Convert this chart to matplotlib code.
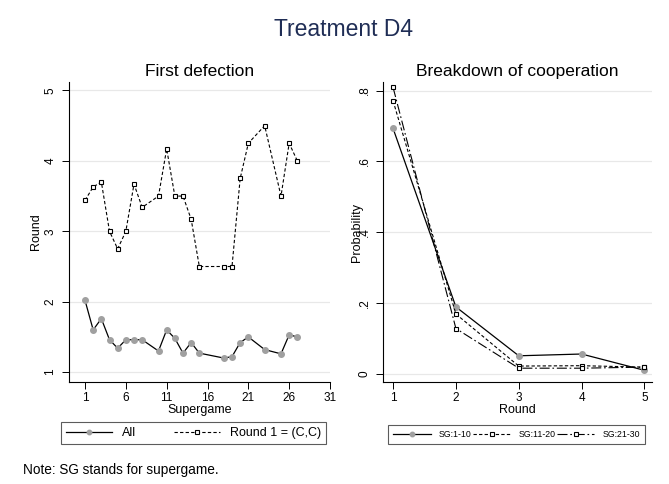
import numpy as np
import matplotlib
matplotlib.use("Agg")
import matplotlib.pyplot as plt

plt.rcParams['font.family'] = ['Liberation Sans', 'DejaVu Sans']

# left panel: first defection by supergame
sg_all = [1, 2, 3, 4, 5, 6, 7, 8, 10, 11, 12, 13, 14, 15, 18, 19, 20, 21, 23, 25, 26, 27]
all_vals = [2.02, 1.60, 1.76, 1.46, 1.34, 1.46, 1.46, 1.46, 1.30, 1.60, 1.48, 1.27,
            1.42, 1.27, 1.20, 1.22, 1.42, 1.50, 1.32, 1.26, 1.53, 1.50]
sg_cc = [1, 2, 3, 4, 5, 6, 7, 8, 10, 11, 12, 13, 14, 15, 18, 19, 20, 21, 23, 25, 26, 27]
cc_vals = [3.44, 3.63, 3.70, 3.00, 2.75, 3.00, 3.67, 3.34, 3.50, 4.17, 3.50, 3.50,
           3.17, 2.50, 2.50, 2.50, 3.75, 4.25, 4.50, 3.50, 4.25, 4.00]

# right panel: breakdown of cooperation
rounds = [1, 2, 3, 4, 5]
sg_1_10 = [0.693, 0.189, 0.051, 0.056, 0.010]
sg_11_20 = [0.771, 0.169, 0.022, 0.023, 0.019]
sg_21_30 = [0.809, 0.128, 0.016, 0.016, 0.019]

grid_c = '#e8e8e8'
gray = '#a0a0a0'

fig = plt.figure(figsize=(6.69, 4.84), dpi=100)
ax1 = fig.add_axes([69/669, 1-382/484, 261/669, 300/484])
ax2 = fig.add_axes([383/669, 1-382/484, 269/669, 300/484])

fig.text(344/669, 1-30/484, "Treatment D4", ha='center', va='center', fontsize=16.5, color='#1f2d55')

def style(ax):
    for s in ['top', 'right']:
        ax.spines[s].set_visible(False)
    ax.spines['left'].set_linewidth(0.8)
    ax.spines['bottom'].set_linewidth(0.8)
    ax.tick_params(direction='out', length=5, width=0.7, labelsize=8.5)
    ax.tick_params(axis='x', pad=2)
    ax.tick_params(axis='y', pad=4)
    ax.yaxis.grid(True, color=grid_c, linewidth=0.9)
    ax.set_axisbelow(True)
    for lab in ax.get_yticklabels():
        lab.set_rotation(90)
        lab.set_va('center')

# left panel
ax1.plot(sg_all, all_vals, color='black', lw=0.9, marker='o', ms=4,
         mfc=gray, mec=gray, label='All')
ax1.plot(sg_cc, cc_vals, color='black', lw=0.8, ls=(0, (3, 2)), marker='s', ms=3.5,
         mfc='white', mec='black', mew=0.8, label='Round 1 = (C,C)')
ax1.set_xlim(-0.96, 31)
ax1.set_ylim(0.86, 5.12)
ax1.set_xticks([1, 6, 11, 16, 21, 26, 31])
ax1.set_yticks([1, 2, 3, 4, 5])
ax1.set_title("First defection", fontsize=12.5, pad=4)
ax1.set_xlabel("Supergame", fontsize=9, labelpad=0)
ax1.set_ylabel("Round", fontsize=9)
ax1.yaxis.set_label_coords(-0.105, 0.5)
style(ax1)

# right panel
ax2.plot(rounds, sg_1_10, color='black', lw=0.9, marker='o', ms=4,
         mfc=gray, mec=gray, label='SG:1-10')
ax2.plot(rounds, sg_11_20, color='black', lw=0.8, ls=(0, (3, 2)), marker='s', ms=3.5,
         mfc='white', mec='black', mew=0.8, label='SG:11-20')
ax2.plot(rounds, sg_21_30, color='black', lw=0.8, ls=(0, (9, 2.5, 1.5, 2.5)), marker='s', ms=3.5,
         mfc='white', mec='black', mew=0.8, label='SG:21-30')
ax2.set_xlim(0.84, 5.12)
ax2.set_ylim(-0.023, 0.824)
ax2.set_xticks(rounds)
ax2.set_yticks([0, 0.2, 0.4, 0.6, 0.8])
ax2.set_yticklabels(['0', '.2', '.4', '.6', '.8'])
ax2.set_title("Breakdown of cooperation", fontsize=12.5, pad=4)
ax2.set_xlabel("Round", fontsize=9, labelpad=0)
ax2.set_ylabel("Probability", fontsize=9)
ax2.yaxis.set_label_coords(-0.073, 0.5)
style(ax2)

# legends
h1, l1 = ax1.get_legend_handles_labels()
leg1 = fig.legend(h1, l1, loc='lower left', ncol=2, mode='expand',
                  bbox_to_anchor=(61/669, 1-444/484, 265/669, 23/484),
                  fontsize=9, frameon=True, fancybox=False, handlelength=3.7,
                  handletextpad=0.8, borderpad=0.4, borderaxespad=0,
                  columnspacing=1.0, markerscale=0.8)
leg1.get_frame().set_edgecolor('#333333')
leg1.get_frame().set_linewidth(0.8)

h2, l2 = ax2.get_legend_handles_labels()
leg2 = fig.legend(h2, l2, loc='lower left', ncol=3, mode='expand',
                  bbox_to_anchor=(388/669, 1-444/484, 257/669, 23/484),
                  fontsize=6.3, frameon=True, fancybox=False, handlelength=4.3,
                  handletextpad=0.9, borderpad=0.6, borderaxespad=0,
                  columnspacing=1.0, markerscale=0.8)
leg2.get_frame().set_edgecolor('#333333')
leg2.get_frame().set_linewidth(0.8)

fig.text(23/669, 1-470/484, "Note: SG stands for supergame.", fontsize=9.8, va='center')

fig.savefig("out.png", dpi=100, facecolor='white')
